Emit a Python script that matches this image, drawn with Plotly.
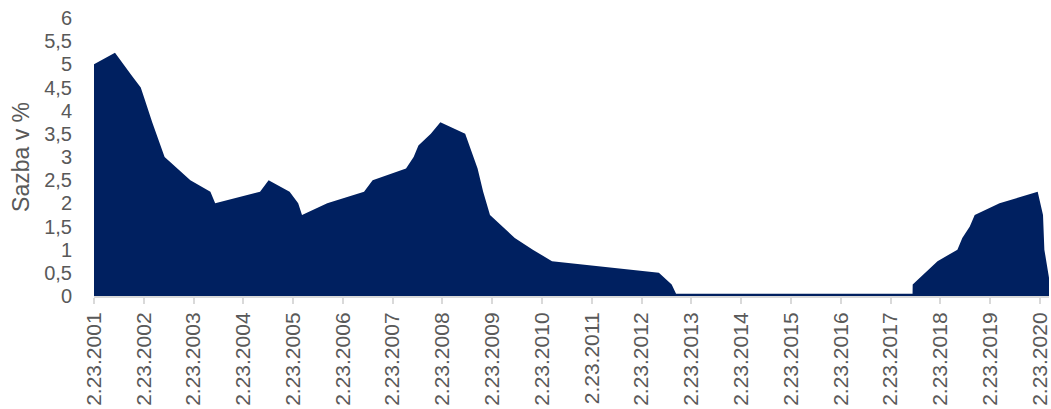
import plotly.graph_objects as go

# CNB 2T repo rate (%), points at decision dates
dates = [
    "2001-02-23", "2001-07-27", "2001-11-29", "2002-02-01", "2002-03-01",
    "2002-04-26", "2002-07-26", "2002-11-01", "2003-01-31", "2003-06-27",
    "2003-08-01", "2004-06-25", "2004-08-27", "2005-01-28", "2005-04-01",
    "2005-04-29", "2005-10-31", "2006-07-28", "2006-09-29", "2007-06-01",
    "2007-07-27", "2007-08-31", "2007-11-30", "2008-02-08", "2008-08-08",
    "2008-11-07", "2008-12-18", "2009-02-06", "2009-05-11", "2009-08-07",
    "2009-12-17", "2010-05-07", "2012-06-29", "2012-10-01", "2012-11-02",
    "2017-08-03", "2017-08-04", "2017-11-03", "2018-02-02", "2018-06-28",
    "2018-08-03", "2018-09-27", "2018-11-02", "2019-05-03", "2020-02-07",
    "2020-03-17", "2020-03-27", "2020-05-08",
]
rates = [
    5.00, 5.25, 4.75, 4.50, 4.25,
    3.75, 3.00, 2.75, 2.50, 2.25,
    2.00, 2.25, 2.50, 2.25, 2.00,
    1.75, 2.00, 2.25, 2.50, 2.75,
    3.00, 3.25, 3.50, 3.75, 3.50,
    2.75, 2.25, 1.75, 1.50, 1.25,
    1.00, 0.75, 0.50, 0.25, 0.05,
    0.05, 0.25, 0.50, 0.75, 1.00,
    1.25, 1.50, 1.75, 2.00, 2.25,
    1.75, 1.00, 0.25,
]

tick_years = list(range(2001, 2021))
tick_vals = [f"{y}-02-23" for y in tick_years]
tick_text = [f"2.23.{y}" for y in tick_years]

y_title = "Sazba v %"
navy = "#002060"
grey_text = "#595959"
font_family = "Liberation Sans, Arial, sans-serif"

fig = go.Figure()
fig.add_trace(go.Scatter(
    x=dates, y=rates, mode="lines", fill="tozeroy",
    line=dict(color=navy, width=0), fillcolor=navy,
    hoverinfo="x+y", showlegend=False,
))

fig.update_layout(
    width=1051, height=409,
    margin=dict(l=94, r=0, t=18, b=113),
    paper_bgcolor="white", plot_bgcolor="white",
    separators=", ",
    font=dict(family=font_family, color=grey_text, size=20),
)
fig.update_xaxes(
    type="date",
    range=["2001-02-23", "2020-04-30"],
    tickvals=tick_vals, ticktext=tick_text,
    tickangle=-90,
    tickfont=dict(size=21, color=grey_text, family=font_family),
    ticklabeloverflow="allow",
    showgrid=False, zeroline=False,
    showline=True, linecolor="#d9d9d9", linewidth=2,
    ticks="outside", ticklen=6, tickwidth=2, tickcolor="#d9d9d9",
)
fig.update_yaxes(
    range=[0, 6], dtick=0.5, tick0=0,
    tickfont=dict(size=20, color=grey_text, family=font_family),
    showgrid=False, zeroline=False, showline=False,
    ticks="", ticklabelstandoff=21,
    title=dict(text=y_title, font=dict(size=23, color=grey_text, family=font_family), standoff=8),
)

fig.write_html("out.html")
